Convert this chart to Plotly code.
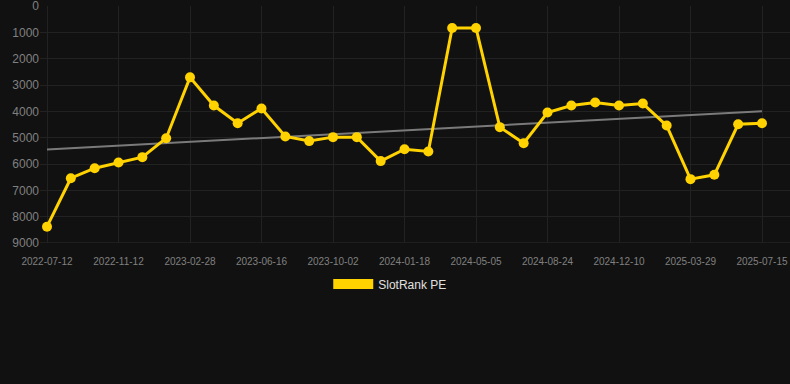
import numpy as np
import plotly.graph_objects as go

dates = [
    "2022-07-12", "2022-08-22", "2022-10-02", "2022-11-12", "2022-12-18", "2023-01-23",
    "2023-02-28", "2023-04-05", "2023-05-11", "2023-06-16", "2023-07-22", "2023-08-27",
    "2023-10-02", "2023-11-07", "2023-12-13", "2024-01-18", "2024-02-23", "2024-03-30",
    "2024-05-05", "2024-06-11", "2024-07-18", "2024-08-24", "2024-09-29", "2024-11-04",
    "2024-12-10", "2025-01-15", "2025-02-20", "2025-03-29", "2025-05-04", "2025-06-09",
    "2025-07-15",
]
slotrank_pe = [
    8380, 6540, 6160, 5940, 5740, 5020,
    2710, 3780, 4450, 3890, 4955, 5130,
    4980, 4980, 5890, 5440, 5525, 835,
    835, 4600, 5210, 4045, 3780, 3665,
    3780, 3705, 4540, 6575, 6410, 4490,
    4450,
]
y_ticks = [0, 1000, 2000, 3000, 4000, 5000, 6000, 7000, 8000, 9000]
x_tick_labels = dates[::3]

idx = np.arange(len(slotrank_pe))
slope, intercept = np.polyfit(idx, slotrank_pe, 1)
trend = [slope * i + intercept for i in idx]

YELLOW = "#FFD200"
BG = "#111111"

fig = go.Figure()
fig.add_trace(go.Scatter(
    x=dates, y=trend, mode="lines",
    line=dict(color="#7a7a7a", width=2),
    showlegend=False, hoverinfo="skip",
))
fig.add_trace(go.Scatter(
    x=dates, y=slotrank_pe, mode="lines+markers",
    line=dict(color=YELLOW, width=3),
    marker=dict(color=YELLOW, size=10),
    showlegend=False, name="SlotRank PE",
))
fig.add_trace(go.Scatter(
    x=[None], y=[None], mode="lines",
    line=dict(color=YELLOW, width=10),
    name="SlotRank PE", showlegend=True,
))

step = 23.83
fig.update_layout(
    width=790, height=384,
    paper_bgcolor=BG, plot_bgcolor=BG,
    margin=dict(l=40, r=0, t=6, b=141),
    font=dict(family="Liberation Sans, Arial, sans-serif", color="#808080"),
    legend=dict(
        orientation="h", x=0.467, xanchor="center", y=-0.112, yanchor="top",
        font=dict(size=12, color="#e0e0e0"), itemwidth=40,
        bgcolor="rgba(0,0,0,0)",
    ),
    xaxis=dict(
        type="category", categoryorder="array", categoryarray=dates,
        range=[-7 / step, 30 + 28 / step],
        tickmode="array", tickvals=x_tick_labels, ticktext=x_tick_labels,
        tickfont=dict(size=10, color="#808080"),
        showgrid=True, gridcolor="#222222", gridwidth=1,
        showline=False, zeroline=False,
        ticks="outside", ticklen=9, tickcolor="rgba(0,0,0,0)",
    ),
    yaxis=dict(
        range=[9000, 0], tickmode="array", tickvals=y_ticks,
        tickfont=dict(size=12, color="#808080"),
        showgrid=True, gridcolor="#222222", gridwidth=1,
        zeroline=False, showline=False, ticks="",
        ticklabeloverflow="allow",
    ),
)
fig.add_shape(type="line", xref="paper", yref="y", x0=0, x1=1, y0=9000, y1=9000,
              line=dict(color="#2c2c2c", width=1), layer="below")

fig.write_html(
    "out.html",
    config={"displayModeBar": False},
    post_script="document.body.style.margin='0';document.body.style.background='#111111';",
)
